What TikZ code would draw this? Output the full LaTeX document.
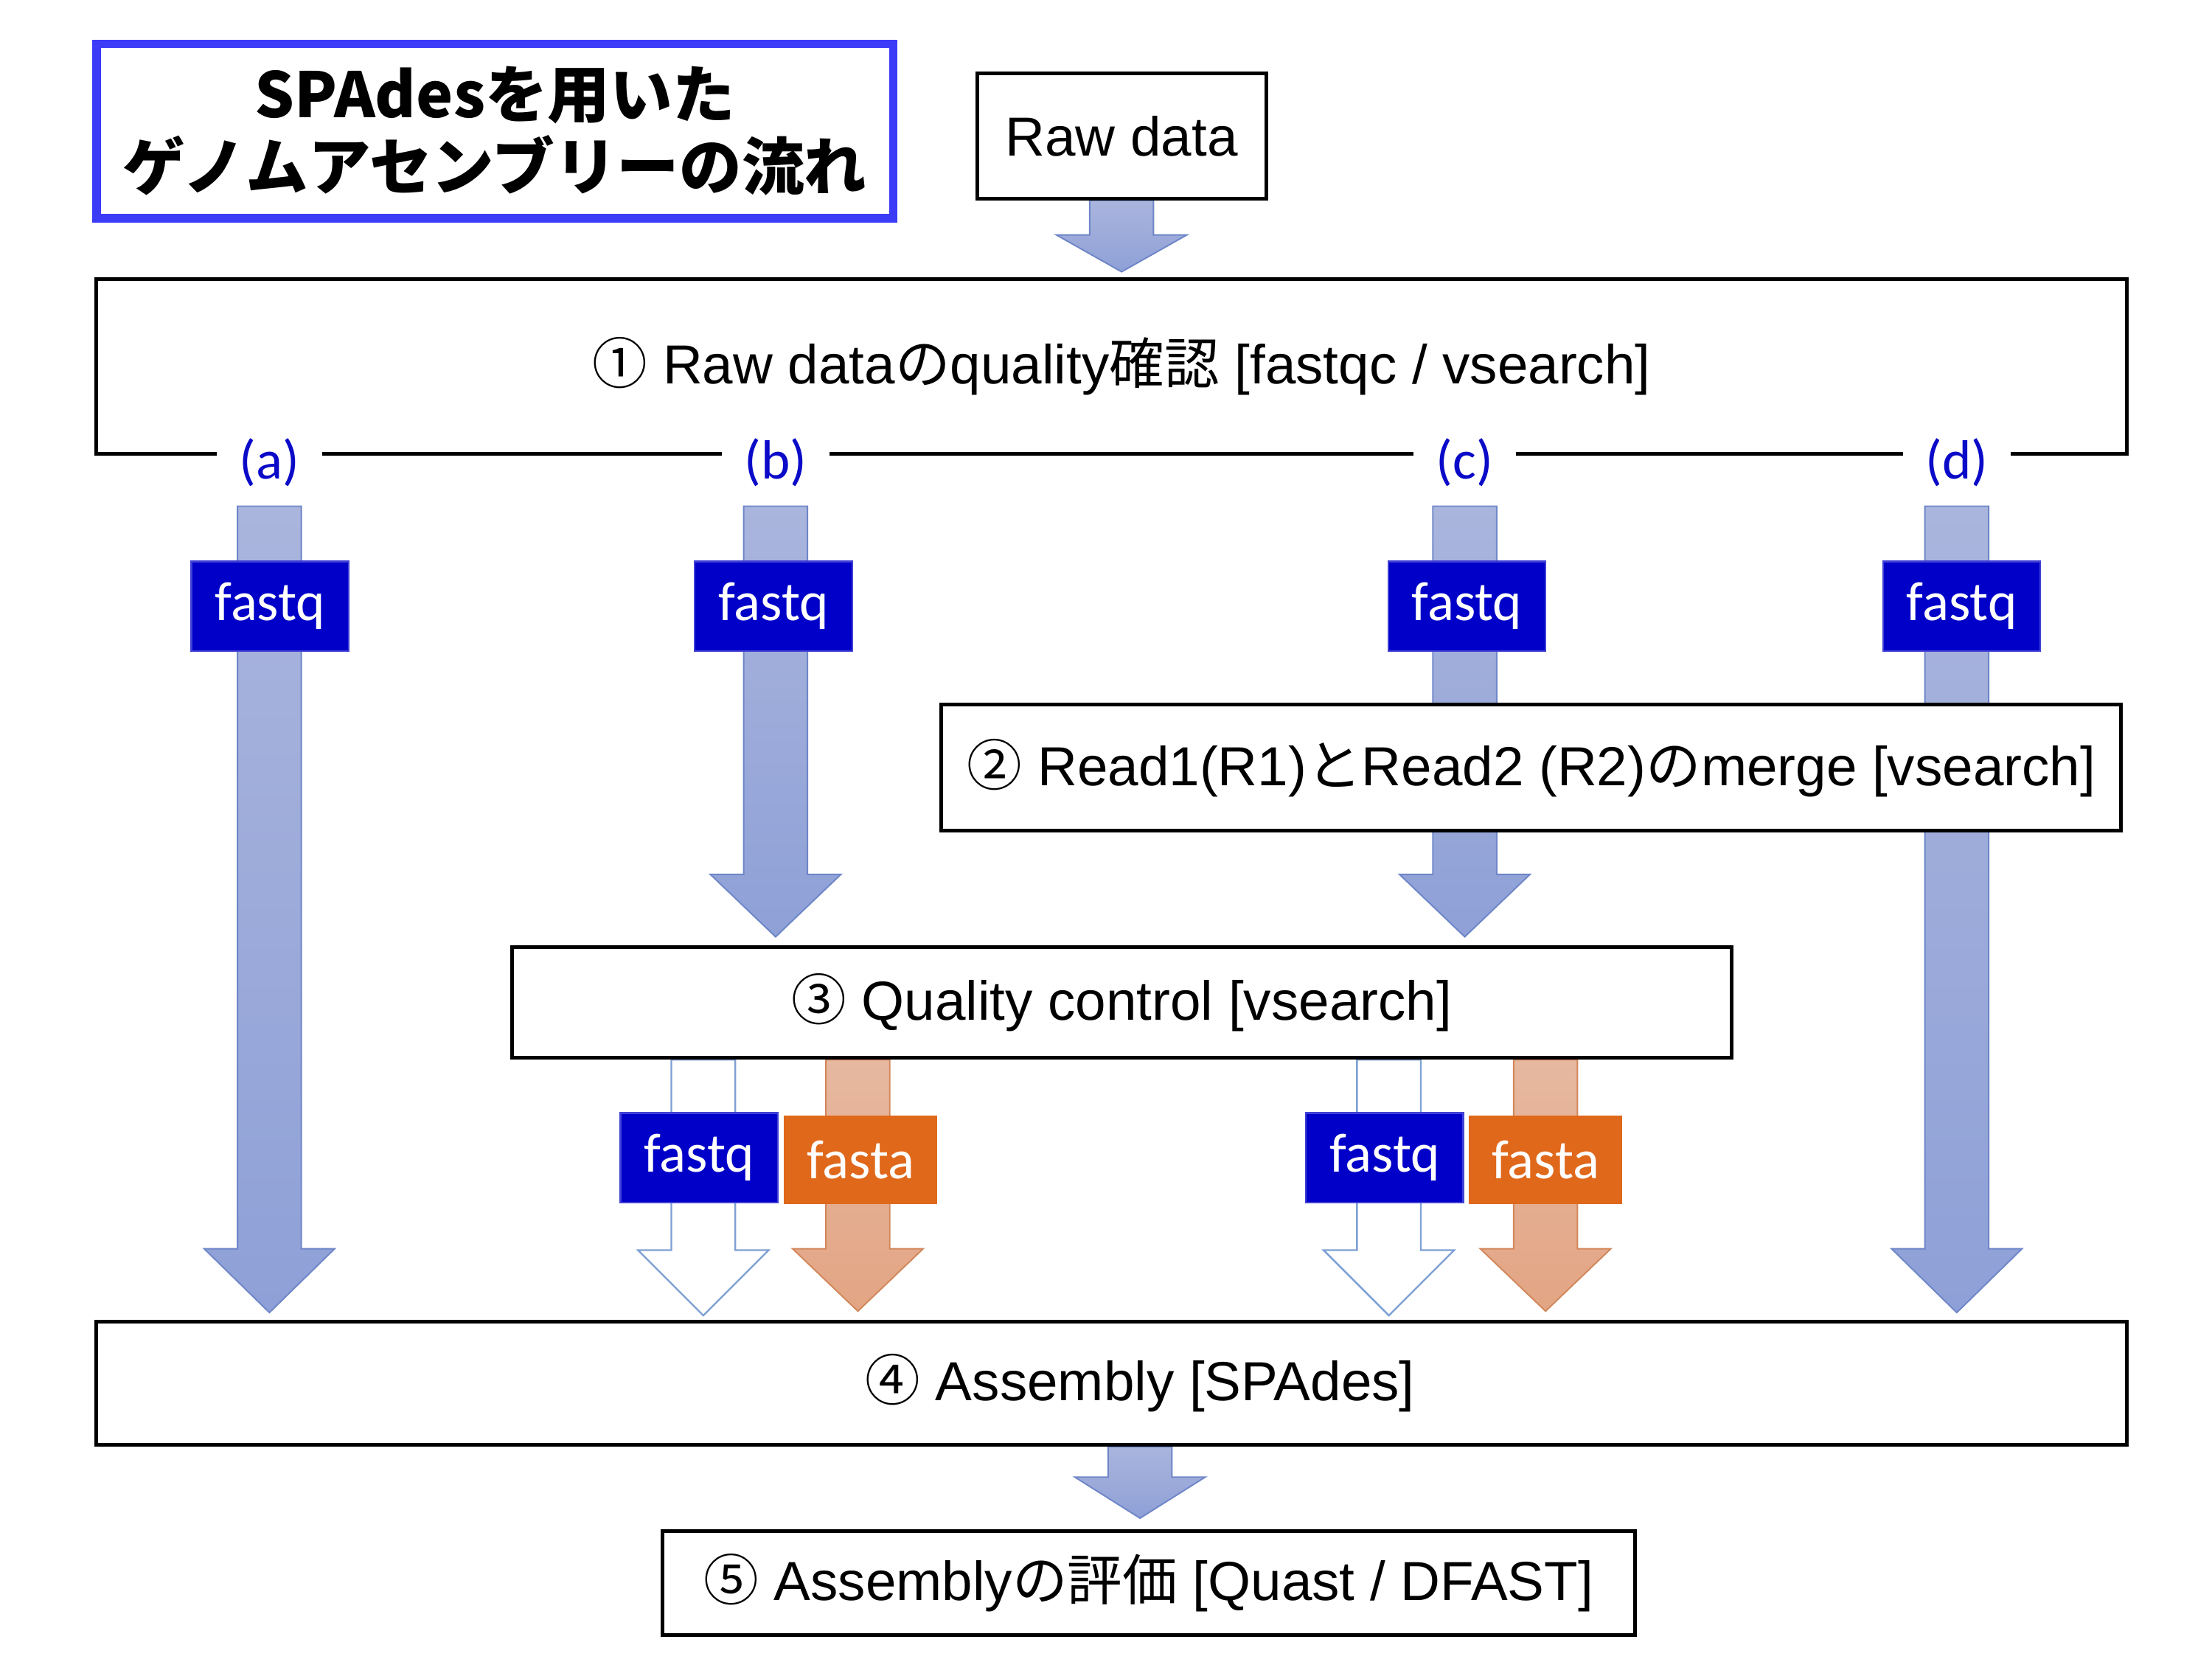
\documentclass[tikz,border=0pt]{standalone}
\usepackage{fontspec}
\setmainfont{Liberation Sans}
\newfontfamily\jp{Noto Sans CJK JP}
\newfontfamily\jpheavy{Noto Sans CJK JP Black}
\newfontfamily\tagfont{Carlito}
\usetikzlibrary{calc,backgrounds}

\definecolor{titleblue}{RGB}{60,60,248}
\definecolor{tagblue}{RGB}{0,0,200}
\definecolor{labelblue}{RGB}{10,10,200}
\definecolor{fastaorange}{RGB}{224,104,26}
\definecolor{arrowtop}{RGB}{170,181,221}
\definecolor{arrowbot}{RGB}{142,160,215}
\definecolor{arrowline}{RGB}{110,134,200}
\definecolor{hollowline}{RGB}{125,160,212}
\definecolor{orangetop}{RGB}{230,184,160}
\definecolor{orangebot}{RGB}{227,165,132}
\definecolor{orangeline}{RGB}{210,135,90}

% block arrow: style, start (top), tip, head length
\newcommand{\blockarrow}[4]{%
  \path[#1] let \p1=(#2), \p2=(#3) in
    (\x1-11.25pt,\y1) -- (\x1-11.25pt,\y2+#4) -- (\x1-23pt,\y2+#4) -- (\x1,\y2)
    -- (\x1+23pt,\y2+#4) -- (\x1+11.25pt,\y2+#4) -- (\x1+11.25pt,\y1) -- cycle;
}

\begin{document}
\begin{tikzpicture}[x=0.5pt,y=-0.5pt,
  stepbox/.style={draw, line width=1.3pt, fill=white, inner sep=0pt,
    font=\fontsize{19.4}{23}\selectfont},
  tag/.style={text=white, inner sep=0pt, font=\tagfont\fontsize{19.5}{21}\selectfont},
  fastq/.style={tag, fill=tagblue, draw=tagblue!75!white, line width=0.6pt,
    minimum width=55.5pt, minimum height=31.5pt},
  fasta/.style={tag, fill=fastaorange, minimum width=54pt, minimum height=31pt},
  branch/.style={fill=white, text=labelblue, inner xsep=8pt, inner ysep=1pt,
    font=\tagfont\fontsize{19.5}{21}\selectfont},
  bluearrow/.style={draw=arrowline, line width=0.5pt, top color=arrowtop, bottom color=arrowbot},
  hollowarrow/.style={draw=hollowline, line width=0.6pt, fill=white},
  orangearrow/.style={draw=orangeline, line width=0.5pt, top color=orangetop, bottom color=orangebot}]
	\useasboundingbox (0,0) rectangle (1560,1170);

	% title
	\node[draw=titleblue, line width=3pt, fill=white, minimum width=281pt, minimum height=61.5pt,
	  align=center, font=\jpheavy\fontsize{22}{25.5}\selectfont] (title) at (349,92.5)
	  {SPAdesを用いた\\ゲノムアセンブリーの流れ};

	% steps
	\node[stepbox, minimum width=102pt, minimum height=44pt] (raw) at (791,96) {Raw data};
	\node[stepbox, minimum width=716pt, minimum height=61.5pt] (step1) at (784,258.5)
	  {\hspace*{7pt}{\jp ①} Raw data{\jp の}quality{\jp 確認} [fastqc / vsearch]};
	\node[stepbox, minimum width=416pt, minimum height=44.5pt] (step2) at (1080,541.5)
	  {{\jp ②} Read1(R1){\jp と}Read2 (R2){\jp の}merge [vsearch]};
	\node[stepbox, minimum width=430pt, minimum height=39pt] (step3) at (791,707)
	  {{\jp ③} Quality control [vsearch]};
	\node[stepbox, minimum width=716pt, minimum height=43.5pt] (step4) at (784,975.5)
	  {\hspace*{20pt}{\jp ④} Assembly [SPAdes]};
	\node[stepbox, minimum width=343pt, minimum height=36.5pt] (step5) at (810,1116.5)
	  {{\jp ⑤} Assembly{\jp の評価} [Quast / DFAST]};

	% branches
	\node[branch] (la) at (190,326) {(a)};
	\node[branch] (lb) at (547,326) {(b)};
	\node[branch] (lc) at (1033,326) {(c)};
	\node[branch] (ld) at (1380,326) {(d)};

	% file types
	\node[fastq] (qa) at (190.5,427.5) {fastq};
	\node[fastq] (qb) at (545.5,427.5) {fastq};
	\node[fastq] (qc) at (1034.5,427.5) {fastq};
	\node[fastq] (qd) at (1383.5,427.5) {fastq};
	\node[fastq] (qb2) at (493,816.5) {fastq};
	\node[fasta] (fb) at (607,818) {fasta};
	\node[fastq] (qc2) at (976.5,816.5) {fastq};
	\node[fasta] (fc) at (1090,818) {fasta};

	% arrows
	\begin{scope}[on background layer]
	\fill[white] (0,0) rectangle (1560,1170);
	\blockarrow{bluearrow}{raw.south}{[yshift=2pt]step1.north}{13pt}
	\blockarrow{bluearrow}{[yshift=-15.5pt]la.center}{[yshift=2.5pt]step4.north}{22.5pt}
	\blockarrow{bluearrow}{[yshift=-15.5pt]lb.center}{[yshift=3pt]step3.north}{22pt}
	\blockarrow{bluearrow}{[yshift=-15.5pt]lc.center}{[yshift=3pt]step3.north}{22pt}
	\blockarrow{bluearrow}{[yshift=-15.5pt]ld.center}{[yshift=2.5pt]step4.north}{22.5pt}
	\blockarrow{hollowarrow}{[xshift=1.5pt]qb2 |- step3.south}{[yshift=1.5pt]step4.north}{23pt}
	\blockarrow{orangearrow}{[xshift=-1pt]fb |- step3.south}{[yshift=3pt]step4.north}{22pt}
	\blockarrow{hollowarrow}{[xshift=1.5pt]qc2 |- step3.south}{[yshift=1.5pt]step4.north}{23pt}
	\blockarrow{orangearrow}{fc |- step3.south}{[yshift=3pt]step4.north}{22pt}
	\blockarrow{bluearrow}{[xshift=10pt]step4.south}{[yshift=4pt]step5.north}{14.5pt}
	\end{scope}
\end{tikzpicture}
\end{document}
